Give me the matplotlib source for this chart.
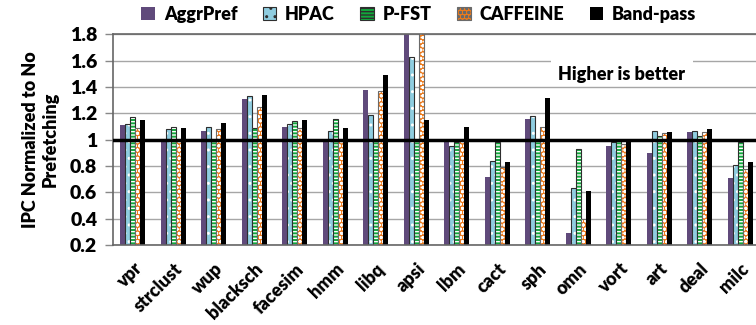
import numpy as np
import matplotlib.pyplot as plt
from matplotlib.patches import Patch, Rectangle

plt.rcParams['font.family'] = ['Lato', 'DejaVu Sans']
plt.rcParams['font.weight'] = 'heavy'
plt.rcParams['hatch.linewidth'] = 1.0

benchmarks = ["vpr", "strclust", "wup", "blacksch", "facesim", "hmm", "libq", "apsi",
              "lbm", "cact", "sph", "omn", "vort", "art", "deal", "milc"]

aggrpref = [1.11, 1.00, 1.07, 1.31, 1.10, 1.00, 1.38, 1.82, 0.99, 0.72, 1.16, 0.29, 0.95, 0.90, 1.06, 0.71]
hpac = [1.12, 1.08, 1.10, 1.33, 1.12, 1.07, 1.19, 1.63, 0.95, 0.84, 1.18, 0.63, 0.98, 1.07, 1.07, 0.81]
pfst = [1.17, 1.10, 0.99, 1.09, 1.14, 1.16, 0.99, 0.99, 0.98, 0.98, 0.99, 0.93, 0.99, 1.03, 1.03, 0.98]
caffeine = [1.09, 0.99, 1.08, 1.25, 1.09, 0.99, 1.37, 1.82, 0.99, 0.79, 1.10, 0.40, 0.97, 1.05, 1.06, 0.78]
bandpass = [1.15, 1.09, 1.13, 1.34, 1.15, 1.09, 1.49, 1.15, 1.10, 0.83, 1.32, 0.61, 0.98, 1.06, 1.08, 0.83]

series = [
    ("AggrPref", aggrpref, "#604a7b", None, None),
    ("HPAC", hpac, "#8fcde0", "..", "#2e2e2e"),
    ("P-FST", pfst, "#11a83c", "-----", "#2e2e2e"),
    ("CAFFEINE", caffeine, "#ec7a1c", "oooo", "#6a6a6a"),
    ("Band-pass", bandpass, "#000000", None, None),
]

yticks = [0.2, 0.4, 0.6, 0.8, 1.0, 1.2, 1.4, 1.6, 1.8]
ytick_labels = ["0.2", "0.4", "0.6", "0.8", "1", "1.2", "1.4", "1.6", "1.8"]

fig = plt.figure(figsize=(7.56, 3.25), dpi=100)
ax = fig.add_axes([0.149, 0.246, 0.857, 0.648])

x = np.arange(len(benchmarks))
w = 0.1235
handles = []
for k, (name, vals, color, hatch, edge) in enumerate(series):
    pos = x + (k - 2) * w
    if hatch:
        # fill with white hatching, then outline on top
        ax.bar(pos, np.array(vals) - 0.2, w, bottom=0.2, color=color, hatch=hatch,
               edgecolor="white", linewidth=0, zorder=2)
        ax.bar(pos, np.array(vals) - 0.2, w, bottom=0.2, fill=False,
               edgecolor=edge, linewidth=0.8, zorder=2)
        handles.append(Patch(facecolor=color, hatch=hatch, edgecolor=edge, linewidth=0.8, label=name))
    else:
        ax.bar(pos, np.array(vals) - 0.2, w, bottom=0.2, color=color, linewidth=0, zorder=2)
        handles.append(Patch(facecolor=color, label=name))

ax.axhline(1.0, color="black", linewidth=2.5, zorder=3)

ax.set_ylim(0.2, 1.8)
ax.set_xlim(-0.5, len(benchmarks) - 0.5)
ax.set_yticks(yticks)
ax.set_yticklabels(ytick_labels, fontsize=14, fontweight="heavy")
ax.set_xticks(x)
ax.set_xticklabels(benchmarks, rotation=45, ha="right", va="top", rotation_mode="anchor",
                   fontsize=13, fontweight="heavy")
ax.tick_params(axis="x", length=0, pad=11)
ax.tick_params(axis="y", length=6, color="#888888", width=1, pad=5)

ax.set_axisbelow(True)
ax.yaxis.grid(True, color="#a6a6a6", linewidth=1)
for side in ["left", "bottom", "top"]:
    ax.spines[side].set_color("#666666")
    ax.spines[side].set_linewidth(1.2)
ax.spines["right"].set_visible(False)

ax.set_ylabel("IPC Normalized to No\nPrefetching", fontsize=13, fontweight="heavy", labelpad=8)

# white box behind the annotation
ax.add_patch(Rectangle((0.676, 0.783), 0.22, 0.119, transform=ax.transAxes,
                       facecolor="white", edgecolor="none", zorder=1))
ax.text(0.786, 0.81, "Higher is better", transform=ax.transAxes, ha="center", va="center",
        fontsize=13, fontweight="heavy", zorder=4)

fig.legend(handles=handles, loc="center", bbox_to_anchor=(0.554, 0.955), ncol=5,
           frameon=False, prop={"weight": "heavy", "size": 13},
           handlelength=0.75, handleheight=0.75, handletextpad=0.5, columnspacing=1.4)

fig.savefig("out.png", dpi=100)
